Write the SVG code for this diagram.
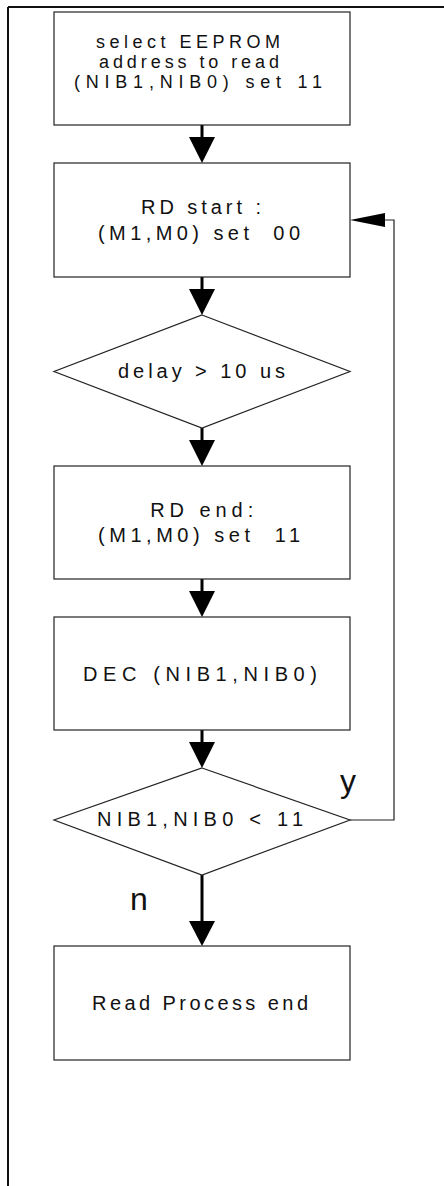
<svg xmlns="http://www.w3.org/2000/svg" width="444" height="1186" viewBox="0 0 444 1186">
<style>
.box{fill:#fff;stroke:#222;stroke-width:1.2}
.t{font-family:"Liberation Sans",Arial,sans-serif;font-size:20px;fill:#111;text-anchor:middle;white-space:pre}
.t1{font-family:"Liberation Sans",Arial,sans-serif;font-size:18px;fill:#111;text-anchor:middle;white-space:pre}
.lbl{font-family:"Liberation Sans",Arial,sans-serif;font-size:32px;fill:#111}
.flow{stroke:#000;stroke-width:3;fill:none}
.thin{stroke:#222;stroke-width:1.2;fill:none}
.head{fill:#000}
</style>
<rect x="0" y="0" width="444" height="1186" fill="#fff"/>
<g id="frame">
<line x1="8" y1="7" x2="444" y2="7" stroke="#111" stroke-width="2"/>
<line x1="8" y1="7" x2="8" y2="1186" stroke="#111" stroke-width="2"/>
</g>
<g id="connectors">
<line class="flow" x1="202" y1="125" x2="202" y2="140"/>
<polygon class="head" points="189,137 215,137 202,163"/>
<line class="flow" x1="202" y1="277" x2="202" y2="292"/>
<polygon class="head" points="189,289 215,289 202,315"/>
<line class="flow" x1="202" y1="428" x2="202" y2="443"/>
<polygon class="head" points="189,440 215,440 202,466"/>
<line class="flow" x1="202" y1="579" x2="202" y2="594"/>
<polygon class="head" points="189,591 215,591 202,617"/>
<line class="flow" x1="202" y1="730" x2="202" y2="745"/>
<polygon class="head" points="189,742 215,742 202,768"/>
<line class="flow" x1="202" y1="875" x2="202" y2="924"/>
<polygon class="head" points="189,921 215,921 202,946"/>
<polyline class="thin" points="350,820 394,820 394,220 383,220"/>
<polygon class="head" points="350,220 385,213 385,227"/>
<text class="lbl" x="340" y="792">y</text>
<text class="lbl" x="130" y="910">n</text>
</g>
<g id="n1">
<rect class="box" x="54" y="12" width="296" height="113"/>
<text class="t1" x="188" y="48" textLength="184" lengthAdjust="spacing">select EEPROM</text>
<text class="t1" x="189" y="68" textLength="180" lengthAdjust="spacing">address to read</text>
<text class="t1" x="198" y="88" textLength="248" lengthAdjust="spacing">(NIB1,NIB0) set 11</text>
</g>
<g id="n2">
<rect class="box" x="54" y="163" width="296" height="114"/>
<text class="t" x="201" y="214" textLength="120" lengthAdjust="spacing">RD start :</text>
<text class="t" x="199" y="240" textLength="202" lengthAdjust="spacing">(M1,M0) set  00</text>
</g>
<g id="n3">
<polygon class="box" points="202,315 350,371.5 202,428 54,371.5"/>
<text class="t" x="201.5" y="378" textLength="167" lengthAdjust="spacing">delay &gt; 10 us</text>
</g>
<g id="n4">
<rect class="box" x="54" y="466" width="296" height="113"/>
<text class="t" x="201.7" y="517" textLength="103" lengthAdjust="spacing">RD end:</text>
<text class="t" x="199" y="542" textLength="202" lengthAdjust="spacing">(M1,M0) set  11</text>
</g>
<g id="n5">
<rect class="box" x="54" y="617" width="296" height="113"/>
<text class="t" x="200" y="681" textLength="234" lengthAdjust="spacing">DEC (NIB1,NIB0)</text>
</g>
<g id="n6">
<polygon class="box" points="202,768 350,820 202,875 54,820"/>
<text class="t" x="200" y="826" textLength="206" lengthAdjust="spacing">NIB1,NIB0 &lt; 11</text>
</g>
<g id="n7">
<rect class="box" x="54" y="946" width="296" height="114"/>
<text class="t" x="200" y="1010" textLength="216" lengthAdjust="spacing">Read Process end</text>
</g>
</svg>
